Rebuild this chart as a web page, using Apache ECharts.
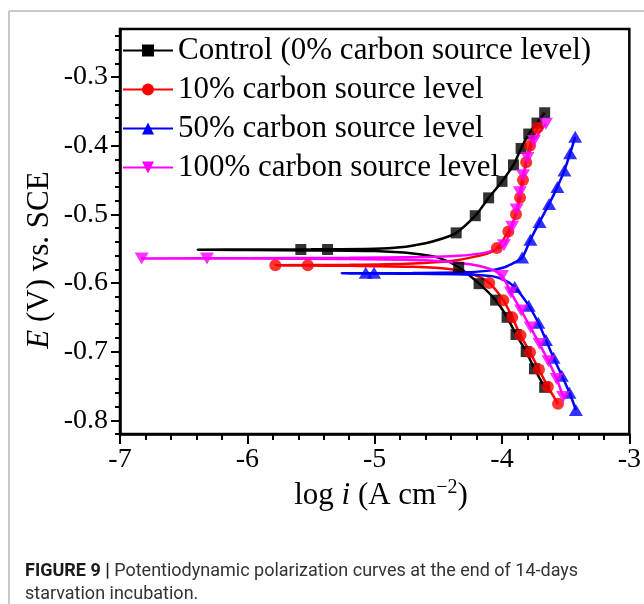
<!DOCTYPE html>
<html>
<head>
<meta charset="utf-8">
<script src="https://cdn.jsdelivr.net/npm/echarts@6/dist/echarts.min.js"></script>
<style>
  html, body { margin: 0; padding: 0; background: #fff; }
  #chart { width: 644px; height: 604px; }
</style>
</head>
<body>
<div id="chart"></div>
<script>
// Series names as shown in the legend
const seriesNames = [
  'Control (0% carbon source level)',
  '10% carbon source level',
  '50% carbon source level',
  '100% carbon source level'
];

// Polarization curves: [log i (A cm^-2), E (V vs. SCE)], traced from the
// cathodic end, through the corrosion potential, up the anodic branch.
const controlLine = [
  [-3.665, -0.752], [-3.745, -0.725], [-3.81, -0.700], [-3.89, -0.675], [-3.96, -0.650],
  [-4.05, -0.625], [-4.18, -0.601], [-4.34, -0.577], [-4.50, -0.563], [-4.70, -0.557],
  [-5.00, -0.5535], [-5.50, -0.5525], [-6.00, -0.552], [-6.39, -0.5515],
  [-6.00, -0.5512], [-5.50, -0.551], [-5.00, -0.5502], [-4.80, -0.548], [-4.60, -0.542],
  [-4.48, -0.536], [-4.36, -0.527], [-4.21, -0.502], [-4.105, -0.476], [-4.00, -0.452],
  [-3.91, -0.428], [-3.85, -0.404], [-3.79, -0.383], [-3.725, -0.367], [-3.665, -0.352]
];
const controlMarks = [
  [-5.58, -0.5512], [-5.37, -0.5512],
  [-4.36, -0.527], [-4.21, -0.502], [-4.105, -0.476], [-4.00, -0.452], [-3.91, -0.428],
  [-3.85, -0.404], [-3.79, -0.383], [-3.725, -0.367], [-3.665, -0.352],
  [-4.34, -0.577], [-4.18, -0.601], [-4.05, -0.625], [-3.96, -0.650], [-3.89, -0.675],
  [-3.81, -0.700], [-3.745, -0.725], [-3.665, -0.752]
];

const tenLine = [
  [-3.56, -0.776], [-3.64, -0.751], [-3.71, -0.726], [-3.78, -0.701], [-3.855, -0.676],
  [-3.92, -0.650], [-3.99, -0.625], [-4.10, -0.600], [-4.22, -0.588], [-4.40, -0.580],
  [-4.70, -0.5765], [-5.20, -0.575], [-5.78, -0.5742],
  [-5.20, -0.5735], [-4.70, -0.5715], [-4.40, -0.568], [-4.22, -0.562], [-4.10, -0.556],
  [-4.04, -0.549], [-3.95, -0.525], [-3.89, -0.500], [-3.858, -0.476], [-3.835, -0.450],
  [-3.81, -0.424], [-3.78, -0.400], [-3.72, -0.374]
];
const tenMarks = [
  [-5.78, -0.5742], [-5.525, -0.5742],
  [-4.04, -0.549], [-3.95, -0.525], [-3.89, -0.500], [-3.858, -0.476], [-3.835, -0.450],
  [-3.81, -0.424], [-3.78, -0.400], [-3.72, -0.374],
  [-4.10, -0.600], [-3.99, -0.625], [-3.92, -0.650], [-3.855, -0.676], [-3.78, -0.701],
  [-3.71, -0.726], [-3.64, -0.751], [-3.56, -0.776]
];

const fiftyLine = [
  [-3.42, -0.785], [-3.47, -0.760], [-3.53, -0.735], [-3.595, -0.709], [-3.655, -0.683],
  [-3.715, -0.658], [-3.79, -0.633], [-3.90, -0.606], [-3.98, -0.596], [-4.08, -0.590],
  [-4.30, -0.5875], [-4.70, -0.5865], [-5.26, -0.586],
  [-4.70, -0.5855], [-4.30, -0.5845], [-4.10, -0.582], [-3.98, -0.577], [-3.90, -0.570],
  [-3.842, -0.563], [-3.777, -0.537], [-3.705, -0.511], [-3.63, -0.485], [-3.565, -0.460],
  [-3.51, -0.436], [-3.465, -0.411], [-3.425, -0.387]
];
const fiftyMarks = [
  [-5.07, -0.585], [-5.005, -0.585],
  [-3.842, -0.563], [-3.777, -0.537], [-3.705, -0.511], [-3.63, -0.485], [-3.565, -0.460],
  [-3.51, -0.436], [-3.465, -0.411], [-3.425, -0.387],
  [-3.90, -0.606], [-3.79, -0.633], [-3.715, -0.658], [-3.655, -0.683], [-3.595, -0.709],
  [-3.53, -0.735], [-3.47, -0.760], [-3.42, -0.785]
];

const hundredLine = [
  [-3.52, -0.766], [-3.57, -0.740], [-3.635, -0.714], [-3.705, -0.689], [-3.775, -0.665],
  [-3.85, -0.640], [-3.93, -0.614], [-4.00, -0.590], [-4.10, -0.579], [-4.30, -0.5715],
  [-4.60, -0.567], [-5.20, -0.565], [-6.00, -0.5645], [-6.83, -0.5642],
  [-6.00, -0.5638], [-5.20, -0.5632], [-4.60, -0.5622], [-4.35, -0.5605], [-4.15, -0.5565],
  [-4.05, -0.551], [-3.985, -0.545], [-3.92, -0.518], [-3.885, -0.493], [-3.86, -0.468],
  [-3.835, -0.443], [-3.80, -0.418], [-3.75, -0.393], [-3.655, -0.368]
];
const hundredMarks = [
  [-6.83, -0.5642], [-6.317, -0.5642],
  [-3.985, -0.545], [-3.92, -0.518], [-3.885, -0.493], [-3.86, -0.468], [-3.835, -0.443],
  [-3.80, -0.418], [-3.75, -0.393], [-3.655, -0.368],
  [-4.00, -0.590], [-3.93, -0.614], [-3.85, -0.640], [-3.775, -0.665], [-3.705, -0.689],
  [-3.635, -0.714], [-3.57, -0.740], [-3.52, -0.766]
];

// Potential axis ticks
const yMajorTicks = [-0.8, -0.7, -0.6, -0.5, -0.4, -0.3];
const yMinorTicks = [
  -0.82, -0.80, -0.78, -0.76, -0.74, -0.72, -0.70, -0.68, -0.66, -0.64,
  -0.62, -0.60, -0.58, -0.56, -0.54, -0.52, -0.50, -0.48, -0.46, -0.44,
  -0.42, -0.40, -0.38, -0.36, -0.34, -0.32, -0.30, -0.28, -0.26, -0.24
];

const SERIF = "'Liberation Serif', 'Times New Roman', serif";
const AXIS_W = 2.5;
const invTriangle = 'path://M0,0 L12,0 L6,10 Z';

function curve(name, color, symbol, size, line, marks) {
  return [
    {
      type: 'line', name, data: line,
      symbol, symbolSize: size, showSymbol: false,
      smooth: 0.3,
      lineStyle: { color, width: 2.5 },
      itemStyle: { color },
      z: 2, animation: false
    },
    {
      type: 'scatter', name, data: marks,
      symbol, symbolSize: size,
      itemStyle: { color },
      z: 3, animation: false
    }
  ];
}

const chart = echarts.init(document.getElementById('chart'), null, { renderer: 'canvas' });

chart.setOption({
  animation: false,
  backgroundColor: '#fff',
  grid: {
    left: 120, right: 10, top: 29, bottom: 170,
    show: true, borderColor: '#000', borderWidth: AXIS_W, backgroundColor: 'transparent'
  },
  legend: {
    data: seriesNames,
    orient: 'vertical',
    left: 122, top: 35,
    padding: 0,
    itemWidth: 50, itemHeight: 15, itemGap: 8,
    selectedMode: false,
    textStyle: { fontFamily: SERIF, fontSize: 31, color: '#000', lineHeight: 30 }
  },
  xAxis: {
    type: 'value', min: -7, max: -3, interval: 1,
    axisLine: { show: true, onZero: false, lineStyle: { color: '#000', width: AXIS_W } },
    axisTick: { show: true, inside: false, length: 10, lineStyle: { color: '#000', width: 2 } },
    minorTick: { show: true, splitNumber: 5, length: 6, lineStyle: { color: '#000', width: 2 } },
    axisLabel: { fontFamily: SERIF, fontSize: 28, color: '#000', margin: 12 },
    splitLine: { show: false }
  },
  yAxis: [
    {
      type: 'value', min: -0.82, max: -0.23,
      axisLine: { show: true, onZero: false, lineStyle: { color: '#000', width: AXIS_W } },
      axisTick: { show: true, inside: false, length: 9, customValues: yMajorTicks,
                  lineStyle: { color: '#000', width: 2 } },
      axisLabel: { customValues: yMajorTicks, fontFamily: SERIF, fontSize: 28, color: '#000',
                   margin: 12, formatter: v => v.toFixed(1) },
      splitLine: { show: false }
    },
    {
      type: 'value', min: -0.82, max: -0.23, position: 'left',
      axisLine: { show: false, onZero: false },
      axisTick: { show: true, inside: false, length: 5, customValues: yMinorTicks,
                  lineStyle: { color: '#000', width: 2 } },
      axisLabel: { show: false },
      splitLine: { show: false }
    }
  ],
  series: [
    ...curve(seriesNames[0], '#000000', 'rect', 11, controlLine, controlMarks),
    ...curve(seriesNames[1], '#ff0000', 'circle', 12, tenLine, tenMarks),
    ...curve(seriesNames[2], '#0000ff', 'triangle', [14, 12], fiftyLine, fiftyMarks),
    ...curve(seriesNames[3], '#ff00ff', invTriangle, [14, 12], hundredLine, hundredMarks)
  ],
  graphic: [
    // page frame
    { type: 'line', silent: true, shape: { x1: 9, y1: 11, x2: 644, y2: 11 },
      style: { stroke: '#c8c8c8', lineWidth: 2 } },
    { type: 'line', silent: true, shape: { x1: 9, y1: 11, x2: 9, y2: 604 },
      style: { stroke: '#c8c8c8', lineWidth: 2 } },
    // axis titles
    { type: 'text', x: 40, y: 260, rotation: Math.PI / 2, silent: true,
      style: {
        text: '{it|E} (V) vs. SCE',
        align: 'center', verticalAlign: 'middle',
        textAlign: 'center', textVerticalAlign: 'middle',
        font: '31px ' + SERIF, fill: '#000',
        rich: { it: { fontFamily: SERIF, fontSize: 31, fontStyle: 'italic', fill: '#000' } }
      } },
    { type: 'text', x: 381, y: 496, silent: true,
      style: {
        text: '{n|log }{it|i}{n| (A cm}{sup|\u22122}{n|)}',
        align: 'center', verticalAlign: 'middle',
        textAlign: 'center', textVerticalAlign: 'middle',
        font: '31px ' + SERIF, fill: '#000',
        rich: {
          n: { fontFamily: SERIF, fontSize: 31, lineHeight: 36, fill: '#000' },
          it: { fontFamily: SERIF, fontSize: 31, lineHeight: 36, fontStyle: 'italic', fill: '#000' },
          sup: { fontFamily: SERIF, fontSize: 20, lineHeight: 20, verticalAlign: 'top', fill: '#000' }
        }
      } },
    // figure caption
    { type: 'text', x: 25, y: 571, silent: true,
      style: {
        text: '{b|FIGURE 9 |} Potentiodynamic polarization curves at the end of 14-days',
        verticalAlign: 'middle', textVerticalAlign: 'middle',
        font: '18px Roboto', fill: '#333',
        rich: { b: { fontFamily: 'Roboto', fontSize: 18, fontWeight: 'bold', fill: '#1a1a1a' } }
      } },
    { type: 'text', x: 25, y: 594, silent: true,
      style: {
        text: 'starvation incubation.',
        verticalAlign: 'middle', textVerticalAlign: 'middle',
        font: '18px Roboto', fill: '#333'
      } }
  ]
});
</script>
</body>
</html>
